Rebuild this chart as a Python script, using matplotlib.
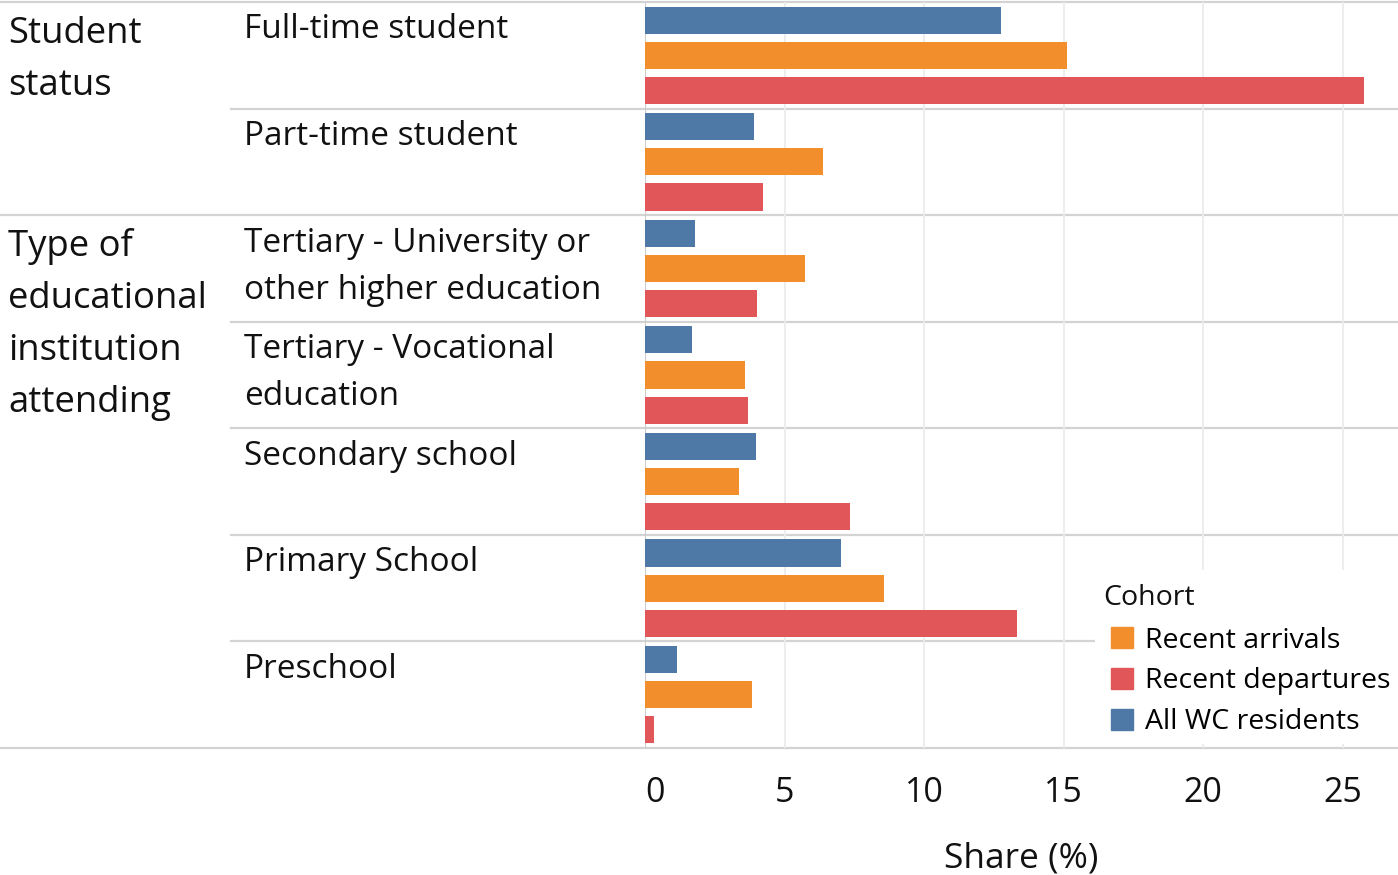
import matplotlib
matplotlib.use("Agg")
import matplotlib.pyplot as plt
from matplotlib.lines import Line2D
from matplotlib.patches import Patch, Rectangle

plt.rcParams['font.family'] = ['Open Sans', 'DejaVu Sans']

groups = [["Student", "status"], ["Type of", "educational", "institution", "attending"]]
group_sizes = [2, 5]
categories = [["Full-time student"], ["Part-time student"],
              ["Tertiary - University or", "other higher education"],
              ["Tertiary - Vocational", "education"],
              ["Secondary school"], ["Primary School"], ["Preschool"]]
all_wc = [12.76, 3.91, 1.79, 1.68, 3.98, 7.03, 1.15]
arrivals = [15.13, 6.38, 5.73, 3.58, 3.37, 8.57, 3.84]
departures = [25.77, 4.23, 4.01, 3.69, 7.35, 13.33, 0.32]
series_names = ["All WC residents", "Recent arrivals", "Recent departures"]
legend_order = ["Recent arrivals", "Recent departures", "All WC residents"]
legend_title = "Cohort"
colors = {"All WC residents": "#4e79a7", "Recent arrivals": "#f28e2b",
          "Recent departures": "#e15759"}
xticks = [0, 5, 10, 15, 20, 25]

W, H = 1398, 875
fig = plt.figure(figsize=(W / 100, H / 100), dpi=100)

def fx(px):
    return px / W

def fy(py):
    return 1 - py / H

top_px, bot_px, left_px = 2, 748, 645
ax = fig.add_axes([fx(left_px), fy(bot_px), 1 - fx(left_px), (bot_px - top_px) / H])
ax.patch.set_visible(False)
n = len(categories)
ax.set_ylim(n - 0.5, -0.5)
ax.set_xlim(0, (W - left_px) / 27.9)

offsets = [-0.33, 0.0, 0.33]
bh = 0.255
for s, name in enumerate(series_names):
    vals = [all_wc, arrivals, departures][s]
    ax.barh([i + offsets[s] for i in range(n)], vals, height=bh,
            color=colors[name], zorder=3)

for sp in ax.spines.values():
    sp.set_visible(False)
ax.set_yticks([])
ax.set_xticks(xticks)
ax.set_xticklabels([str(t) for t in xticks], fontsize=24.5)
ax.get_xticklabels()[0].set_horizontalalignment('left')
ax.tick_params(axis='x', length=0, pad=20, colors='#111111')
ax.xaxis.grid(True, color='#ececec', linewidth=1.3, zorder=0)
ax.axvline(0, color='#cccccc', linewidth=1.5, zorder=2)
ax.set_xlabel("Share (%)", fontsize=25.5, labelpad=23, color='#111111')

# row separator lines
row_h = (bot_px - top_px) / n
bounds = [0]
for g in group_sizes:
    bounds.append(bounds[-1] + g)
for i in range(n + 1):
    y = top_px + i * row_h
    x0 = 0 if i in bounds else 231
    fig.add_artist(Line2D([fx(x0), 1], [fy(y), fy(y)], color='#d3d3d3',
                          linewidth=1.6, zorder=-1))

# category labels
for i, lines in enumerate(categories):
    for k, line in enumerate(lines):
        y = top_px + i * row_h + 36.5 + k * 47
        fig.text(fx(244), fy(y), line, fontsize=24, va='baseline', ha='left',
                 color='#111111')

# group labels
for gi, lines in enumerate(groups):
    for k, line in enumerate(lines):
        y = top_px + bounds[gi] * row_h + 41 + k * 52
        fig.text(fx(8), fy(y), line, fontsize=26.3, va='baseline', ha='left',
                 color='#111111')

# legend area (white background covering lines)
fig.add_artist(Rectangle((fx(1095), fy(744)), 1 - fx(1095), (744 - 570) / H,
                         transform=fig.transFigure, facecolor='white',
                         edgecolor='none', zorder=4))
fig.text(fx(1103), fy(598), legend_title, fontsize=20.5, va='center', ha='left',
         color='#111111', zorder=6)
handles = [Patch(color=colors[k]) for k in legend_order]
leg = fig.legend(handles, legend_order, loc='upper left',
                 bbox_to_anchor=(fx(1102.5), fy(618)),
                 fontsize=20.5, frameon=False, borderaxespad=0,
                 handlelength=0.77, handleheight=0.77, handletextpad=0.42,
                 labelspacing=0.45, borderpad=0.3)
leg.set_zorder(6)

fig.savefig("out.png", dpi=100, facecolor='white')
